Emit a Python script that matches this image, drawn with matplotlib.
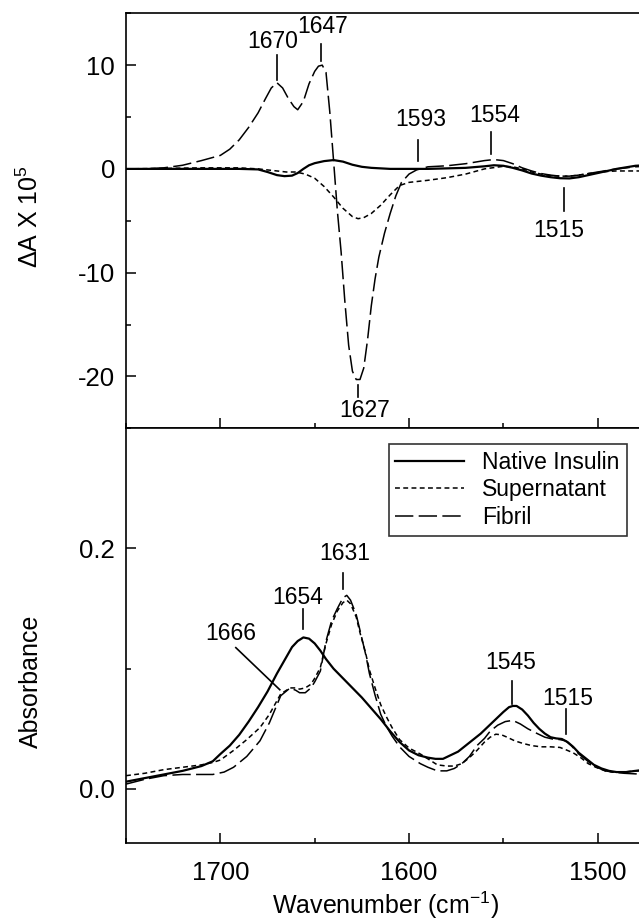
import numpy as np
import matplotlib
matplotlib.use("Agg")
import matplotlib.pyplot as plt
from matplotlib.ticker import MultipleLocator

plt.rcParams['font.family'] = ['Liberation Sans', 'DejaVu Sans']
plt.rcParams['mathtext.fontset'] = 'custom'
plt.rcParams['mathtext.rm'] = 'Liberation Sans'
plt.rcParams['mathtext.it'] = 'Liberation Sans:italic'
plt.rcParams['axes.unicode_minus'] = False

# ---- top panel: difference spectra (dA x 1e5) ----
native_top_wn = [1750, 1730, 1710, 1690, 1680, 1675, 1670, 1666, 1662, 1659, 1656, 1653, 1650,
                 1645, 1640, 1635, 1630, 1625, 1620, 1610, 1600, 1590, 1580, 1570, 1560, 1555,
                 1550, 1545, 1540, 1535, 1530, 1525, 1520, 1515, 1510, 1505, 1500, 1495, 1490,
                 1485, 1480, 1475]
native_top = [0, 0, 0, 0, -0.05, -0.3, -0.6, -0.7, -0.65, -0.4, 0.0, 0.35, 0.55,
              0.75, 0.85, 0.7, 0.4, 0.2, 0.1, 0.0, 0.0, 0.0, 0.05, 0.1, 0.25, 0.35,
              0.3, 0.1, -0.15, -0.45, -0.65, -0.8, -0.9, -0.92, -0.8, -0.6, -0.4, -0.2, 0.0,
              0.15, 0.3, 0.35]

super_top_wn = [1750, 1730, 1710, 1690, 1680, 1670, 1665, 1660, 1655, 1650, 1645, 1640, 1635,
                1630, 1627, 1624, 1620, 1615, 1610, 1605, 1600, 1595, 1590, 1580, 1570, 1560,
                1550, 1545, 1540, 1535, 1530, 1525, 1520, 1515, 1510, 1505, 1500, 1495, 1490,
                1485, 1480, 1475]
super_top = [0, 0.05, 0.1, 0.1, 0.0, -0.2, -0.3, -0.3, -0.5, -0.9, -1.7, -2.7, -3.8,
             -4.6, -4.8, -4.7, -4.3, -3.5, -2.5, -1.6, -1.3, -1.2, -1.1, -0.85, -0.5, 0.0,
             0.25, 0.2, 0.0, -0.3, -0.5, -0.65, -0.7, -0.7, -0.6, -0.45, -0.35, -0.25, -0.2,
             -0.2, -0.2, -0.2]

fibril_top_wn = [1750, 1740, 1730, 1720, 1710, 1700, 1695, 1690, 1685, 1680, 1676, 1673, 1670,
                 1667, 1664, 1661, 1659, 1656, 1653, 1650, 1648, 1646, 1644, 1642, 1640, 1638,
                 1636, 1634, 1632, 1630, 1628, 1626, 1624, 1622, 1620, 1618, 1616, 1613, 1610,
                 1607, 1604, 1600, 1596, 1590, 1580, 1570, 1560, 1555, 1550, 1545, 1540, 1535,
                 1530, 1525, 1520, 1515, 1510, 1505, 1500, 1495, 1490, 1485, 1480, 1475]
fibril_top = [0, 0, 0.1, 0.35, 0.8, 1.3, 1.9, 2.8, 4.0, 5.4, 6.8, 7.8, 8.3,
              7.8, 6.8, 6.0, 5.7, 6.5, 8.2, 9.4, 9.9, 10.0, 9.3, 5.5, 0.8, -4.0,
              -8.0, -12.8, -17.0, -19.5, -20.3, -20.3, -19.2, -16.5, -13.2, -10.6, -8.5, -6.2, -4.3,
              -2.6, -1.3, -0.5, -0.1, 0.2, 0.3, 0.5, 0.8, 0.9, 0.8, 0.5, 0.1, -0.2,
              -0.45, -0.6, -0.7, -0.7, -0.6, -0.45, -0.3, -0.15, 0.0, 0.1, 0.2, 0.25]

# ---- bottom panel: absorbance ----
native_wn = [1750, 1740, 1730, 1720, 1710, 1704, 1700, 1695, 1690, 1685, 1680, 1675, 1670, 1666,
             1662, 1659, 1656, 1653, 1650, 1647, 1644, 1640, 1635, 1630, 1625, 1620, 1615, 1610,
             1605, 1600, 1595, 1590, 1586, 1582, 1578, 1574, 1570, 1566, 1562, 1558, 1554, 1550,
             1547, 1545, 1543, 1540, 1537, 1534, 1531, 1528, 1525, 1522, 1519, 1516, 1513, 1510,
             1506, 1502, 1498, 1494, 1490, 1485, 1480, 1475]
native_abs = [0.006, 0.009, 0.012, 0.015, 0.019, 0.023, 0.029, 0.036, 0.045, 0.056, 0.068, 0.081,
              0.096, 0.107, 0.118, 0.123, 0.126, 0.125, 0.121, 0.115, 0.108, 0.100, 0.092, 0.084,
              0.076, 0.067, 0.058, 0.048, 0.039, 0.032, 0.028, 0.026, 0.025, 0.025, 0.028, 0.031,
              0.036, 0.041, 0.046, 0.052, 0.058, 0.064, 0.068, 0.069, 0.069, 0.066, 0.061, 0.055,
              0.050, 0.046, 0.043, 0.042, 0.0415, 0.039, 0.035, 0.030, 0.025, 0.020, 0.017, 0.015,
              0.014, 0.014, 0.015, 0.016]

super_wn = [1750, 1740, 1730, 1720, 1710, 1704, 1700, 1693, 1686, 1679, 1674, 1668, 1663, 1660,
            1658, 1655, 1652, 1650, 1647, 1644, 1641, 1638, 1635, 1633, 1631, 1628, 1626, 1623,
            1621, 1618, 1615, 1612, 1609, 1605, 1600, 1594, 1590, 1585, 1580, 1576, 1572, 1568,
            1564, 1560, 1557, 1554, 1551, 1548, 1544, 1540, 1535, 1530, 1525, 1520, 1516, 1513,
            1509, 1505, 1501, 1496, 1492, 1486, 1480, 1475]
super_abs = [0.011, 0.013, 0.016, 0.018, 0.020, 0.022, 0.024, 0.032, 0.041, 0.051, 0.062, 0.079,
             0.084, 0.084, 0.083, 0.084, 0.087, 0.092, 0.101, 0.121, 0.137, 0.148, 0.155, 0.157,
             0.154, 0.143, 0.130, 0.113, 0.099, 0.084, 0.070, 0.060, 0.051, 0.041, 0.034, 0.029,
             0.025, 0.020, 0.019, 0.019, 0.021, 0.026, 0.032, 0.039, 0.043, 0.0455, 0.045, 0.043,
             0.040, 0.038, 0.036, 0.035, 0.035, 0.0345, 0.032, 0.030, 0.026, 0.021, 0.018, 0.015,
             0.014, 0.014, 0.015, 0.015]

fibril_wn = [1750, 1740, 1730, 1720, 1710, 1704, 1698, 1693, 1686, 1679, 1674, 1668, 1663, 1660,
             1658, 1655, 1652, 1650, 1647, 1644, 1641, 1638, 1635, 1633, 1631, 1628, 1626, 1623,
             1621, 1618, 1615, 1612, 1609, 1605, 1600, 1594, 1590, 1585, 1580, 1576, 1572, 1568,
             1564, 1560, 1557, 1553, 1549, 1545, 1541, 1537, 1532, 1528, 1524, 1520, 1517, 1514,
             1510, 1506, 1502, 1496, 1492, 1486, 1480, 1475]
fibril_abs = [0.004, 0.008, 0.011, 0.012, 0.012, 0.012, 0.014, 0.018, 0.027, 0.040, 0.055, 0.0775,
              0.084, 0.082, 0.080, 0.080, 0.084, 0.089, 0.098, 0.123, 0.140, 0.150, 0.159, 0.161,
              0.157, 0.145, 0.132, 0.112, 0.096, 0.078, 0.062, 0.052, 0.044, 0.035, 0.027, 0.021,
              0.018, 0.015, 0.015, 0.017, 0.021, 0.027, 0.036, 0.042, 0.048, 0.053, 0.056, 0.057,
              0.054, 0.050, 0.046, 0.043, 0.0415, 0.041, 0.040, 0.036, 0.029, 0.024, 0.019, 0.015,
              0.014, 0.013, 0.0125, 0.0125]

labels = ["Native Insulin", "Supernatant", "Fibril"]

# ---- figure ----
fig = plt.figure(figsize=(6.39, 9.21), dpi=100)
ax1 = fig.add_axes([0.1972, 0.535, 0.812, 0.4506])
ax2 = fig.add_axes([0.1972, 0.0847, 0.812, 0.4503], sharex=ax1)

styles = [dict(color='black', lw=1.6, linestyle='-'),
          dict(color='black', lw=1.1, linestyle=(0, (3.2, 2.2))),
          dict(color='black', lw=1.1, linestyle=(0, (12, 3.5)))]

tops = [(native_top_wn, native_top), (super_top_wn, super_top), (fibril_top_wn, fibril_top)]
bots = [(native_wn, native_abs), (super_wn, super_abs), (fibril_wn, fibril_abs)]

for (wn, v), st in zip(tops, styles):
    ax1.plot(wn, v, **st)
for (wn, v), st, lab in zip(bots, styles, labels):
    ax2.plot(wn, v, label=lab, **st)

ax1.set_xlim(1750, 1475)
ax1.set_ylim(-25, 15)
ax2.set_ylim(-0.045, 0.3)

ax1.yaxis.set_major_locator(MultipleLocator(10))
ax1.yaxis.set_minor_locator(MultipleLocator(5))
ax2.yaxis.set_major_locator(MultipleLocator(0.2))
ax2.yaxis.set_minor_locator(MultipleLocator(0.1))
ax2.yaxis.set_major_formatter(lambda v, p: f"{v:.1f}")
for ax in (ax1, ax2):
    ax.xaxis.set_major_locator(MultipleLocator(100))
    ax.xaxis.set_minor_locator(MultipleLocator(50))
    ax.tick_params(which='both', direction='in', top=False, right=False, labelsize=18.5,
                   width=1.1)
    ax.tick_params(which='major', length=7)
    ax.tick_params(which='minor', length=3.5)
    ax.tick_params(axis='y', pad=8)
    ax.tick_params(axis='x', pad=13)
    for sp in ax.spines.values():
        sp.set_linewidth(1.2)
    ax.spines['right'].set_visible(False)
ax1.tick_params(labelbottom=False)

ax1.set_ylabel(r"$\Delta$A X 10$^5$", fontsize=18)
ax1.yaxis.set_label_coords(-0.16, 0.51)
ax2.set_ylabel("Absorbance", fontsize=18)
ax2.yaxis.set_label_coords(-0.16, 0.39)
ax2.set_xlabel(r"Wavenumber (cm$^{-1}$)", fontsize=18, labelpad=3)

# peak labels: text, text x, text y, line x0, y0, x1, y1
top_marks = [("1670", 1672, 12.3, 1670, 11.0, 1670, 8.6),
             ("1647", 1646, 13.7, 1646.8, 12.0, 1646.8, 10.4),
             ("1593", 1593.6, 4.8, 1595, 2.8, 1595, 0.8),
             ("1554", 1554.8, 5.1, 1556.3, 3.6, 1556.3, 1.4),
             ("1515", 1520.4, -5.9, 1517.7, -1.8, 1517.7, -4.1),
             ("1627", 1623.5, -23.3, 1627.2, -20.8, 1627.2, -22.0)]
bot_marks = [("1654", 1659, 0.159, 1656.3, 0.150, 1656.3, 0.133),
             ("1666", 1694.4, 0.129, 1691.8, 0.1175, 1668.5, 0.0825),
             ("1631", 1634.1, 0.196, 1635.2, 0.180, 1635.2, 0.166),
             ("1545", 1545.9, 0.105, 1545.2, 0.090, 1545.2, 0.0708),
             ("1515", 1516.1, 0.075, 1516.7, 0.0667, 1516.7, 0.046)]
for ax, marks in ((ax1, top_marks), (ax2, bot_marks)):
    for t, tx, ty, x0, y0, x1, y1 in marks:
        ax.text(tx, ty, t, fontsize=16.5, ha='center', va='center')
        ax.plot([x0, x1], [y0, y1], color='black', lw=1.2)

leg = ax2.legend(loc='upper right', bbox_to_anchor=(0.965, 0.962), borderaxespad=0,
                 fontsize=16.5, frameon=True, fancybox=False, edgecolor='black',
                 handlelength=3.0, handletextpad=0.8, labelspacing=0.2, borderpad=0.3)
leg.get_frame().set_linewidth(1.2)

fig.savefig("out.png", dpi=100)
